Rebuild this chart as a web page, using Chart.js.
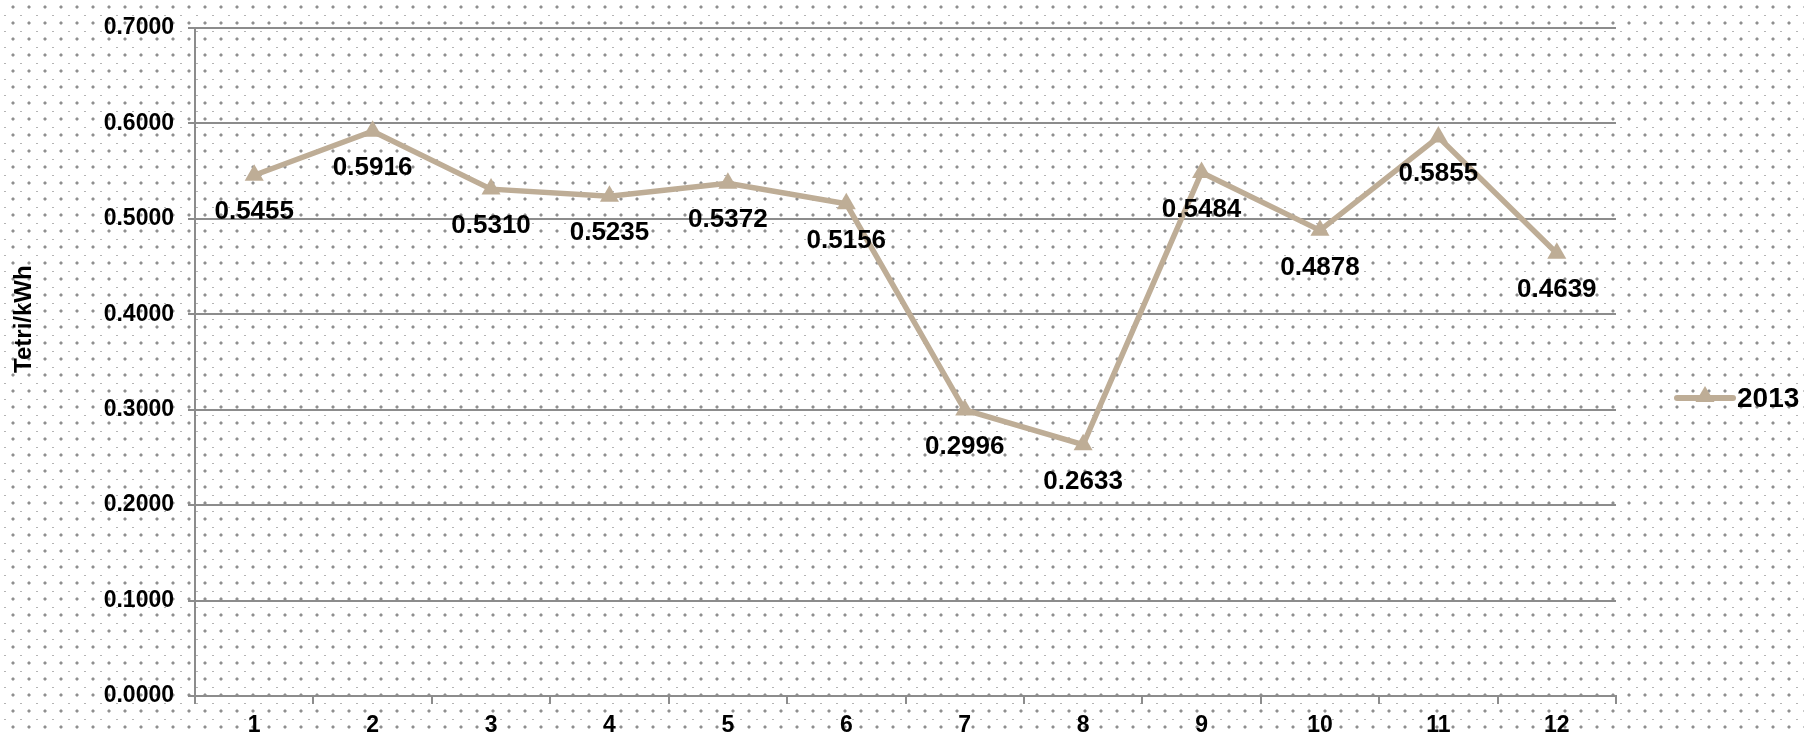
<!DOCTYPE html>
<html>
<head>
<meta charset="utf-8">
<script src="https://cdn.jsdelivr.net/npm/chart.js@4.4.1/dist/chart.umd.min.js"></script>
<style>
  html, body { margin: 0; padding: 0; background: #fff; }
  #wrap { width: 1804px; height: 735px; position: relative; }
</style>
</head>
<body>
<div id="wrap"><canvas id="chart" width="1804" height="735"></canvas></div>
<script>
/* 2013 tariff per month, Tetri/kWh */
var months = ["1", "2", "3", "4", "5", "6", "7", "8", "9", "10", "11", "12"];
var values2013 = [0.5455, 0.5916, 0.5310, 0.5235, 0.5372, 0.5156, 0.2996, 0.2633, 0.5484, 0.4878, 0.5855, 0.4639];
var seriesName = "2013";
var yTitle = "Tetri/kWh";

var LINE_COLOR = "#BEAD96";
var AXIS_COLOR = "#8c8c8c";
var FONT = "'Liberation Sans', Arial, sans-serif";

// dotted paper background (16px tile: dot + small dash)
function makePattern(ctx) {
  var t = document.createElement("canvas");
  t.width = 16;
  t.height = 16;
  var c = t.getContext("2d");
  c.fillStyle = "#ffffff";
  c.fillRect(0, 0, 16, 16);
  c.fillStyle = "#c8c8c8";
  c.fillRect(11, 6, 4, 2);
  c.fillRect(12, 5, 2, 4);
  c.fillStyle = "#8f8f8f";
  c.fillRect(12, 6, 2, 2);
  c.fillStyle = "#b4b4b4";
  c.fillRect(4, 15, 2, 1);
  return ctx.createPattern(t, "repeat");
}

var paperPlugin = {
  id: "paper",
  beforeDraw: function (chart) {
    var ctx = chart.ctx;
    ctx.save();
    ctx.fillStyle = makePattern(ctx);
    ctx.fillRect(0, 0, chart.width, chart.height);
    ctx.restore();
  },
};

function drawTriangle(ctx, x, y, r) {
  ctx.beginPath();
  ctx.moveTo(x, y - r);
  ctx.lineTo(x + r * 0.95, y + r * 0.6);
  ctx.lineTo(x - r * 0.95, y + r * 0.6);
  ctx.closePath();
  ctx.fill();
}

// value labels under each point, y title, right-hand legend
var extrasPlugin = {
  id: "extras",
  afterDatasetsDraw: function (chart) {
    var ctx = chart.ctx;
    var area = chart.chartArea;
    var meta = chart.getDatasetMeta(0);
    ctx.save();
    ctx.fillStyle = "#000";
    ctx.font = "bold 26px " + FONT;
    ctx.textAlign = "center";
    ctx.textBaseline = "middle";
    meta.data.forEach(function (pt, i) {
      ctx.fillText(values2013[i].toFixed(4), pt.x, pt.y + 37);
    });

    // axis title
    ctx.save();
    ctx.translate(24, area.top + (area.bottom - area.top) * 0.436);
    ctx.rotate(-Math.PI / 2);
    ctx.font = "bold 24px " + FONT;
    ctx.fillText(yTitle, 0, 0);
    ctx.restore();

    // legend
    var ly = 398;
    var lx0 = area.right + 61;
    var lx1 = area.right + 117;
    ctx.strokeStyle = LINE_COLOR;
    ctx.lineWidth = 6;
    ctx.lineCap = "round";
    ctx.beginPath();
    ctx.moveTo(lx0, ly);
    ctx.lineTo(lx1, ly);
    ctx.stroke();
    ctx.fillStyle = LINE_COLOR;
    drawTriangle(ctx, (lx0 + lx1) / 2, ly - 2, 10);
    ctx.fillStyle = "#000";
    ctx.textAlign = "left";
    ctx.font = "bold 28px " + FONT;
    ctx.fillText(seriesName, lx1 + 4, ly + 1);
    ctx.restore();
  },
};

new Chart(document.getElementById("chart"), {
  type: "line",
  data: {
    labels: months,
    datasets: [
      {
        label: seriesName,
        data: values2013,
        borderColor: LINE_COLOR,
        backgroundColor: LINE_COLOR,
        borderWidth: 5.5,
        pointStyle: "triangle",
        pointRadius: 11,
        pointBorderWidth: 0,
        pointBackgroundColor: LINE_COLOR,
        tension: 0,
      },
    ],
  },
  options: {
    responsive: false,
    animation: false,
    events: [],
    layout: { padding: { left: 0, top: 22, right: 188, bottom: 0 } },
    plugins: {
      legend: { display: false },
      tooltip: { enabled: false },
    },
    scales: {
      x: {
        offset: true,
        grid: {
          offset: true,
          drawOnChartArea: false,
          drawTicks: true,
          tickLength: 8,
          color: AXIS_COLOR,
          lineWidth: 2,
        },
        border: { display: true, color: AXIS_COLOR, width: 2 },
        ticks: {
          color: "#000",
          font: { family: FONT, size: 23, weight: "bold" },
          padding: 8,
          maxRotation: 0,
        },
        afterFit: function (scale) {
          scale.height = 39;
        },
      },
      y: {
        min: 0,
        max: 0.7,
        ticks: {
          stepSize: 0.1,
          color: "#000",
          font: { family: FONT, size: 23, weight: "bold" },
          padding: 14,
          callback: function (v) {
            return Number(v).toFixed(4);
          },
        },
        grid: {
          color: AXIS_COLOR,
          lineWidth: 2,
          tickLength: 7,
        },
        border: { display: true, color: AXIS_COLOR, width: 2 },
        afterFit: function (scale) {
          scale.width = 195;
        },
      },
    },
  },
  plugins: [paperPlugin, extrasPlugin],
});
</script>
</body>
</html>
